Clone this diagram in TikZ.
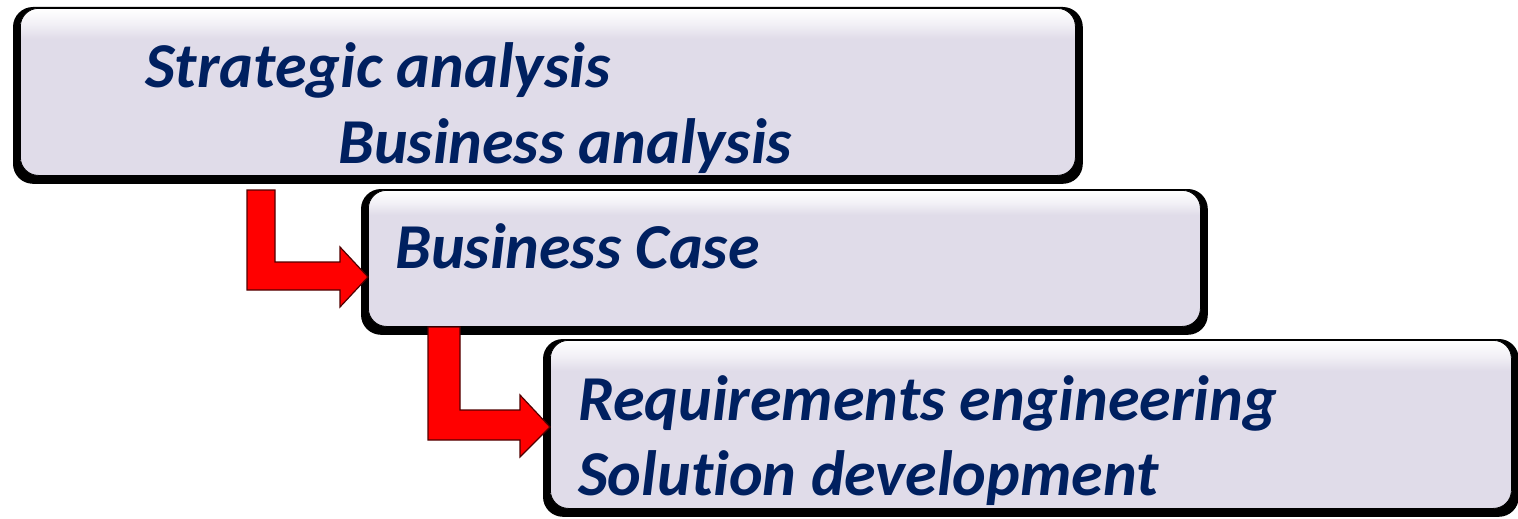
\documentclass[tikz,border=0pt]{standalone}
\usepackage{fontspec}
\setmainfont[Ligatures=NoCommon]{Carlito}
\usetikzlibrary{calc,backgrounds}
\definecolor{boxfill}{RGB}{224,220,233}
\definecolor{navytext}{RGB}{0,32,96}
\definecolor{arrowline}{RGB}{80,0,0}
\pgfdeclareverticalshading{glassshade}{100bp}{color(0bp)=(boxfill); color(66bp)=(boxfill); color(70.5bp)=(boxfill!40!white); color(75bp)=(white); color(100bp)=(white)}

\begin{document}
\begin{tikzpicture}[x=1pt,y=-1pt,
  panel/.style={draw=black, line width=0.8pt, rounded corners=18pt, shading=glassshade, anchor=north west, inner sep=0pt},
  panelshadow/.style={fill=black, rounded corners=20pt},
  label/.style={anchor=base west, text=navytext, inner sep=0pt, font=\fontsize{64}{76}\selectfont\bfseries\itshape},
  bentarrow/.style={fill=red, draw=arrowline, line width=1.2pt, line join=miter}]
\useasboundingbox (0,0) rectangle (1518,519);

% the three stages
\node[panel, minimum width=1055pt, minimum height=167pt] (strat) at (20,8) {};
\node[panel, minimum width=832pt, minimum height=136pt] (case) at (368,190) {};
\node[panel, minimum width=961pt, minimum height=168pt] (reqs) at (550,340) {};

\begin{scope}[on background layer]
\foreach \b in {strat,case,reqs}
  \fill[panelshadow] ($(\b.north west)+(-7,-1)$) rectangle ($(\b.south east)+(7,8)$);
\end{scope}

\node[label] (stratA) at (145,88) {Strategic analysis};
\node[label] (stratB) at (338,163) {Business analysis};
\node[label] (caseA) at (395,268) {Business Case};
\node[label] (reqsA) at (578,420) {Requirements engineering};
\node[label] (reqsB) at (578,495) {Solution development};

% red bent arrows
\draw[bentarrow] (247,190) -- (275,190) -- (275,262) -- (340,262) -- (340,247)
  -- (case.west |- 0,277) -- (340,307) -- (340,290) -- (247,290) -- cycle;
\draw[bentarrow] (428,327) -- (460,327) -- (460,410) -- (520,410) -- (520,395)
  -- (reqs.west |- 0,427) -- (520,457) -- (520,440) -- (428,440) -- cycle;

\end{tikzpicture}
\end{document}
